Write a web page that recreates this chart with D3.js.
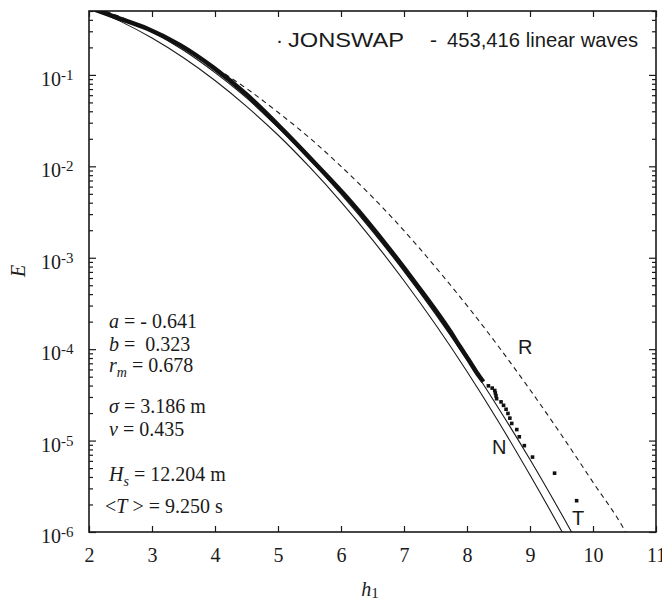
<!DOCTYPE html>
<html>
<head>
<meta charset="utf-8">
<script src="https://cdn.jsdelivr.net/npm/d3@7"></script>
<style>
  body { margin: 0; background: #fff; }
  svg { display: block; }
</style>
</head>
<body>
<div id="canvas"></div>
<script>
// x ticks and y decades
const xTicks = [2, 3, 4, 5, 6, 7, 8, 9, 10, 11];
const yDecades = [-6, -5, -4, -3, -2, -1];

// R curve (dashed)
const hR = [2.0, 2.5, 3.0, 3.5, 4.0, 4.5, 5.0, 5.5, 6.0, 6.5, 7.0, 7.5, 8.0, 8.5, 9.0, 9.5, 10.0, 10.5, 10.6];
const eR = [0.58, 0.43, 0.30, 0.195, 0.12, 0.071, 0.039, 0.0205, 0.0100, 0.0046, 0.00198, 7.9e-4, 3.0e-4, 1.07e-4, 3.6e-5, 1.15e-5, 3.5e-6, 1.05e-6, 7.8e-7];

// N curve (solid, lower)
const hN = [2.0, 2.5, 3.0, 3.5, 4.0, 4.5, 5.0, 5.5, 6.0, 6.5, 7.0, 7.5, 8.0, 8.5, 9.0, 9.5, 9.6];
const eN = [0.543, 0.385, 0.253, 0.154, 0.0868, 0.0453, 0.0220, 0.00984, 0.00409, 0.00157, 5.6e-4, 1.86e-4, 5.7e-5, 1.61e-5, 4.2e-6, 1.03e-6, 7.7e-7];

// T curve (solid, upper)
const hT = [2.0, 2.5, 3.0, 3.5, 4.0, 4.5, 5.0, 5.5, 6.0, 6.5, 7.0, 7.5, 8.0, 8.5, 9.0, 9.5, 9.7];
const eT = [0.56, 0.42, 0.295, 0.186, 0.106, 0.056, 0.0266, 0.0119, 0.00495, 0.00194, 7.1e-4, 2.42e-4, 7.7e-5, 2.26e-5, 6.2e-6, 1.57e-6, 8.9e-7];

// JONSWAP waves, dense part
const hBand = [2.05, 2.5, 2.92, 3.44, 3.97, 4.5, 5.05, 5.61, 6.14, 6.78, 7.2, 7.73, 7.89, 8.05, 8.15, 8.26];
const eBand = [0.53, 0.41, 0.322, 0.213, 0.121, 0.061, 0.0262, 0.0104, 0.0042, 0.00122, 5.1e-4, 1.58e-4, 1.06e-4, 7.2e-5, 5.6e-5, 4.4e-5];

// JONSWAP waves, single points in the tail
const hTail = [8.34, 8.40, 8.44, 8.45, 8.46, 8.47, 8.54, 8.58, 8.62, 8.65, 8.68, 8.71, 8.79, 8.83, 8.91, 9.04, 9.39, 9.74];
const eTail = [3.97e-5, 3.75e-5, 3.53e-5, 3.31e-5, 3.09e-5, 2.87e-5, 2.65e-5, 2.43e-5, 2.2e-5, 1.98e-5, 1.76e-5, 1.54e-5, 1.32e-5, 1.1e-5, 8.8e-6, 6.6e-6, 4.4e-6, 2.2e-6];

const params = [
  { y: 328, parts: [["a", "i"], [" = - 0.641", ""]] },
  { y: 351, parts: [["b", "i"], [" =  0.323", ""]] },
  { y: 372, parts: [["r", "i"], ["m", "sub"], [" = 0.678", ""]] },
  { y: 413, parts: [["σ", "i"], [" = 3.186 m", ""]] },
  { y: 436, parts: [["v", "i"], [" = 0.435", ""]] },
  { y: 481, parts: [["H", "i"], ["s", "sub"], [" = 12.204 m", ""]] },
  { y: 513, parts: [["<", ""], ["T", "i"], [" > = 9.250 s", ""]] }
];

const width = 662;
const height = 603;
const margin = { top: 11, left: 89, bottom: 71, right: 6 };
const iwidth = width - margin.left - margin.right;
const iheight = height - margin.top - margin.bottom;
const serif = "'Liberation Serif', 'Times New Roman', serif";
const sans = "'Liberation Sans', Arial, sans-serif";
const ink = "#1a1a1a";

const svg = d3.select("#canvas").append("svg").attr("width", width).attr("height", height);
const g = svg.append("g").attr("transform", `translate(${margin.left}, ${margin.top})`);

const x = d3.scaleLinear().domain([2, 11]).range([0, iwidth]);
const y = d3.scaleLog().domain([1e-6, 0.5]).range([iheight, 0]);

svg.append("defs").append("clipPath").attr("id", "plot")
  .append("rect").attr("width", iwidth).attr("height", iheight);

// axes, ticks pointing inwards
const allTicks = y.ticks();
const major = yDecades.map((d) => Math.pow(10, d));
const minor = allTicks.filter((t) => Math.abs(Math.log10(t) - Math.round(Math.log10(t))) > 1e-6);

function styleAxis(sel) {
  sel.select(".domain").remove();
  sel.selectAll("line").attr("stroke", ink).attr("stroke-width", 1.2);
}

g.append("g").call(d3.axisLeft(y).tickValues(major).tickSize(-7).tickFormat("")).call(styleAxis);
g.append("g").call(d3.axisLeft(y).tickValues(minor).tickSize(-4).tickFormat("")).call(styleAxis);
g.append("g").attr("transform", `translate(${iwidth}, 0)`)
  .call(d3.axisRight(y).tickValues(major).tickSize(-7).tickFormat("")).call(styleAxis);
g.append("g").attr("transform", `translate(${iwidth}, 0)`)
  .call(d3.axisRight(y).tickValues(minor).tickSize(-4).tickFormat("")).call(styleAxis);

g.append("g").attr("transform", `translate(0, ${iheight})`)
  .call(d3.axisBottom(x).tickValues(xTicks).tickSize(-6).tickPadding(16).tickFormat(d3.format("d")))
  .call(styleAxis)
  .selectAll("text").attr("font-family", serif).attr("font-size", 20).attr("fill", ink)
  .attr("dy", "0.71em");
g.append("g")
  .call(d3.axisTop(x).tickValues(xTicks).tickSize(-6).tickFormat(""))
  .call(styleAxis);

// y tick labels 10^n
const ylab = g.append("g").attr("font-family", serif).attr("fill", ink);
yDecades.forEach((d) => {
  const t = ylab.append("text")
    .attr("x", -48)
    .attr("y", y(Math.pow(10, d)) + 11)
    .attr("font-size", 20);
  t.append("tspan").text("10");
  t.append("tspan").attr("dy", -6).attr("font-size", 15).text(d3.format("d")(d).replace("−", "-"));
});

// frame
g.append("rect").attr("width", iwidth).attr("height", iheight)
  .attr("fill", "none").attr("stroke", ink).attr("stroke-width", 1.6);

const plot = g.append("g").attr("clip-path", "url(#plot)");

const line = d3.line().x((d) => x(d[0])).y((d) => y(d[1])).curve(d3.curveMonotoneX);
const zip = (a, b) => a.map((v, i) => [v, b[i]]);

plot.append("path").datum(zip(hR, eR)).attr("d", line)
  .attr("fill", "none").attr("stroke", ink).attr("stroke-width", 1.1).attr("stroke-dasharray", "5,4");
plot.append("path").datum(zip(hN, eN)).attr("d", line)
  .attr("fill", "none").attr("stroke", ink).attr("stroke-width", 1.1);
plot.append("path").datum(zip(hT, eT)).attr("d", line)
  .attr("fill", "none").attr("stroke", ink).attr("stroke-width", 1.1);

plot.append("path").datum(zip(hBand, eBand)).attr("d", line)
  .attr("fill", "none").attr("stroke", "#111").attr("stroke-width", 4.5);

plot.selectAll("rect.pt").data(zip(hTail, eTail)).enter().append("rect")
  .attr("class", "pt")
  .attr("x", (d) => x(d[0]) - 1.8)
  .attr("y", (d) => y(d[1]) - 1.8)
  .attr("width", 3.6)
  .attr("height", 3.6)
  .attr("fill", "#111");

// curve labels
const curveLabels = [["R", 518, 354], ["N", 492, 454], ["T", 572, 525]];
g.selectAll("text.cl").data(curveLabels).enter().append("text")
  .attr("class", "cl")
  .attr("x", (d) => d[1] - margin.left)
  .attr("y", (d) => d[2] - margin.top)
  .attr("font-family", sans).attr("font-size", 20).attr("fill", ink)
  .text((d) => d[0]);

// legend, pieces placed where the reference has them
const legendParts = [["·", 276, 0], ["JONSWAP", 288, 116], ["-", 430, 0], ["453,416 linear waves", 447, 191]];
g.selectAll("text.lg").data(legendParts).enter().append("text")
  .attr("class", "lg")
  .attr("x", (d) => d[1] - margin.left)
  .attr("y", 47 - margin.top)
  .attr("font-family", sans).attr("font-size", 21).attr("fill", ink)
  .each(function (d) {
    if (d[2]) d3.select(this).attr("textLength", d[2]).attr("lengthAdjust", "spacingAndGlyphs");
  })
  .text((d) => d[0]);

// parameter block
const pb = g.append("g").attr("font-family", serif).attr("font-size", 20).attr("fill", ink);
params.forEach((p, i) => {
  const t = pb.append("text")
    .attr("x", (i === 6 ? 105 : 109) - margin.left)
    .attr("y", p.y - margin.top)
    .attr("xml:space", "preserve")
    .style("white-space", "pre");
  let shifted = false;
  p.parts.forEach(([s, k]) => {
    const ts = t.append("tspan").text(s);
    if (k === "i") ts.attr("font-style", "italic");
    if (k === "sub") { ts.attr("font-style", "italic").attr("font-size", 14).attr("dy", 5); shifted = true; }
    else if (shifted) { ts.attr("dy", -5); shifted = false; }
  });
});

// axis titles
g.append("text")
  .attr("x", 370 - margin.left)
  .attr("y", 596 - margin.top)
  .attr("text-anchor", "middle")
  .attr("font-family", serif).attr("font-size", 20).attr("fill", ink)
  .call((t) => {
    t.append("tspan").attr("font-style", "italic").text("h");
    t.append("tspan").attr("font-size", 15).attr("dy", 2).text("1");
  });

g.append("text")
  .attr("transform", `translate(${25 - margin.left}, ${271 - margin.top}) rotate(-90)`)
  .attr("text-anchor", "middle")
  .attr("font-family", serif).attr("font-size", 20).attr("font-style", "italic").attr("fill", ink)
  .text("E");
</script>
</body>
</html>
